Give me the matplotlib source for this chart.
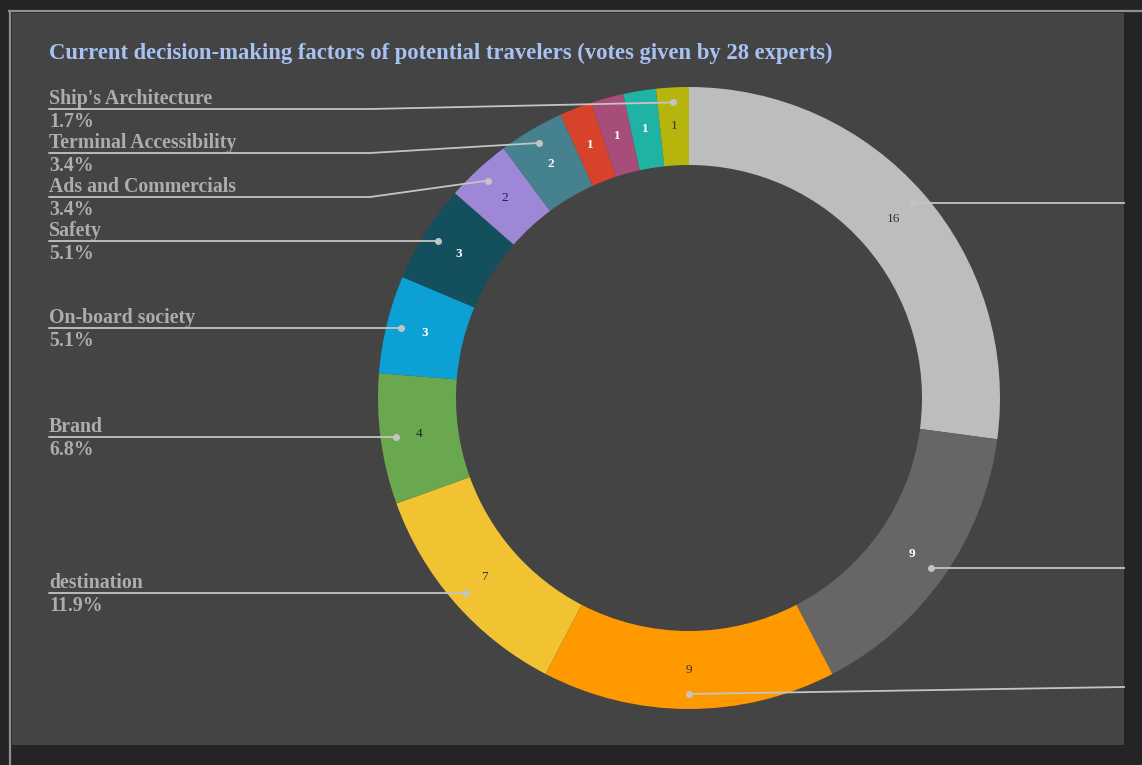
import numpy as np
import matplotlib
matplotlib.use("Agg")
import matplotlib.pyplot as plt
from matplotlib.patches import Rectangle

# ---- data -------------------------------------------------------------
title = "Current decision-making factors of potential travelers (votes given by 28 experts)"
factors = ["", "", "", "destination", "Brand", "On-board society", "Safety",
           "Ads and Commercials", "Terminal Accessibility", "", "", "",
           "Ship's Architecture"]
votes = [16, 9, 9, 7, 4, 3, 3, 2, 2, 1, 1, 1, 1]
slice_colors = ["#bdbdbd", "#666666", "#ff9900", "#f1c232", "#6aa84f", "#0ca0d4",
                "#134f5c", "#9e87d6", "#45818e", "#d6432a", "#a64d79", "#1fb3a3",
                "#b5b50e"]
value_colors = ["#333333", "#ffffff", "#333333", "#333333", "#222222", "#ffffff",
                "#ffffff", "#1b1b4a", "#ffffff", "#ffffff", "#ffffff", "#ffffff",
                "#333333"]
right_side = [0, 1, 2]          # slices whose leader lines run to the right edge

# ---- figure -----------------------------------------------------------
W, H = 1142, 765
fig = plt.figure(figsize=(W / 100, H / 100), dpi=100, facecolor="#242424")
ax = fig.add_axes([0, 0, 1, 1])
ax.set_facecolor("#242424")

# panel and its light top/left border
ax.add_patch(Rectangle((12, 20), 1112, 732, facecolor="#444444", edgecolor="none", zorder=0))
ax.plot([9, W], [H - 11, H - 11], color="#8f8f8f", lw=1.6, zorder=1)
ax.plot([10, 10], [0, H - 11], color="#8f8f8f", lw=1.6, zorder=1)

cx, cy = 689, H - 398
r_out, ring = 311, 78
wedges, _ = ax.pie(votes, colors=slice_colors, startangle=90, counterclock=False,
                   radius=r_out, center=(cx, cy),
                   wedgeprops=dict(width=ring, edgecolor="none"))

ax.set_xlim(0, W)
ax.set_ylim(0, H)
ax.set_aspect("equal")
ax.axis("off")

total = sum(votes)
serif = ["Liberation Serif", "DejaVu Serif"]
line_col = "#c4c4c4"
text_col = "#adadad"

mids = [np.deg2rad((w.theta1 + w.theta2) / 2) for w in wedges]

# values inside the ring
for m, v, c in zip(mids, votes, value_colors):
    r = r_out - ring / 2
    ax.text(cx + r * np.cos(m), cy + r * np.sin(m), str(v), ha="center", va="center",
            color=c, fontsize=9.5, family=serif,
            fontweight="bold" if c == "#ffffff" else "normal", zorder=5)

# left-hand labels, stacked from the top down
r_anchor = r_out - 15
left = [i for i, n in enumerate(factors) if n and i not in right_side]
left.sort(key=lambda i: -np.sin(mids[i]))
prev = None
for i in left:
    ax_, ay = cx + r_anchor * np.cos(mids[i]), cy + r_anchor * np.sin(mids[i])
    ly = min(ay, H - 109) if prev is None else min(ay, prev - 44)
    prev = ly
    ax.plot([49, 370, ax_], [ly, ly, ay], color=line_col, lw=1.3, zorder=4,
            solid_capstyle="round")
    ax.plot(ax_, ay, "o", ms=4, color=line_col, zorder=6)
    ax.text(49, ly + 5, factors[i], ha="left", va="baseline", color=text_col,
            fontsize=14.3, fontweight="bold", family=serif)
    ax.text(49, ly - 3, f"{votes[i] / total * 100:.1f}%", ha="left", va="top",
            color=text_col, fontsize=14.3, fontweight="bold", family=serif)

# right-hand leader lines run off to the panel edge
for i in right_side:
    ax_, ay = cx + r_anchor * np.cos(mids[i]), cy + r_anchor * np.sin(mids[i])
    ly = max(ay, H - 687)
    ax.plot([ax_, 1124], [ay, ly], color=line_col, lw=1.3, zorder=4)
    ax.plot(ax_, ay, "o", ms=4, color=line_col, zorder=6)

ax.text(49, H - 53, title, ha="left", va="center", color="#a8c3f3",
        fontsize=16.3, fontweight="bold", family=serif)

fig.savefig("out.png", dpi=100, facecolor=fig.get_facecolor())
